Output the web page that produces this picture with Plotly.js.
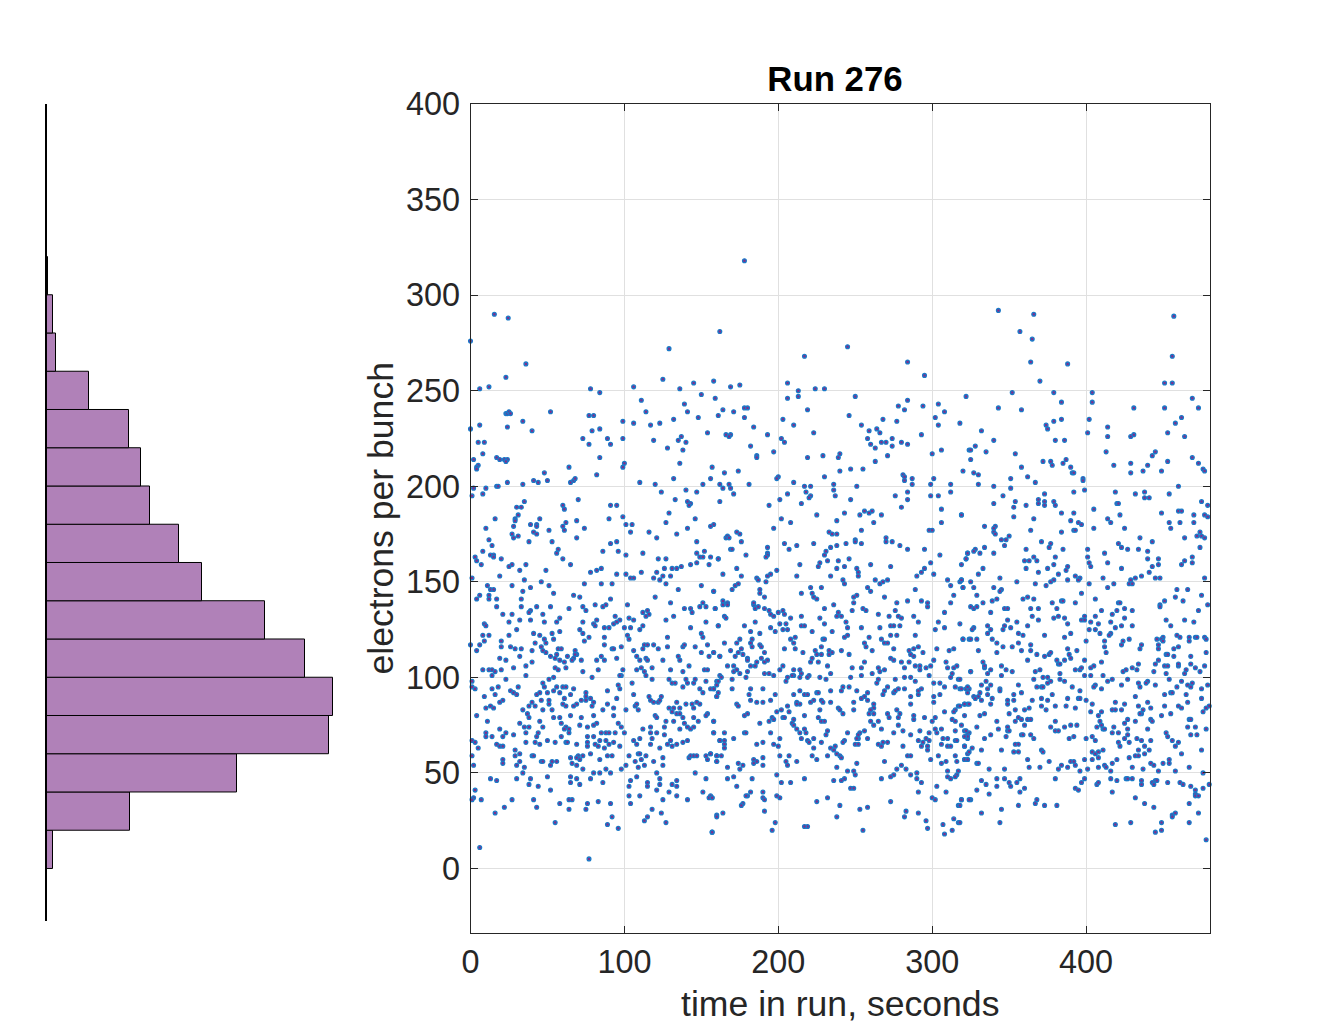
<!DOCTYPE html>
<html><head><meta charset="utf-8">
<script src="https://cdn.plot.ly/plotly-3.0.1.min.js"></script>
<style>html,body{margin:0;padding:0;background:#fff}#c{width:1344px;height:1030px}</style>
</head><body><div id="c"></div>
<script>
var histBinCenters=[10,30,50,70,90,110,130,150,170,190,210,230,250,270,290,310];
var histCounts=[6,83,190,282,286,258,218,155,132,103,94,82,42,9,6,1];
var xTicks=[0,100,200,300,400];
var yTicks=[0,50,100,150,200,250,300,350,400];
// [seconds, electrons], grouped by time span
var pointsEarly=[0,276,129,272,36,264,23,257,125,256,145,254,158,255,6,251,12,252,78,251,84,249,106,252,136,251,111,245,150,248,159,246,139,243,141,239,114,239,23,238,24,238,25,239,26,238,52,239,77,237,80,237,34,234,99,234,106,233,117,232,123,233,132,235,148,236,161,237,6,232,24,231,0,230,40,229,79,229,84,230,154,228,73,225,89,225,99,225,5,223,9,223,77,222,91,222,119,224,135,224,137,226,140,223,128,220,138,219,8,217,17,215,19,214,22,214,24,214,23,213,84,215,2,214,136,212,100,212,99,210,157,210,5,211,4,210,4,209,64,210,48,207,82,206,41,203,44,202,50,203,65,202,67,203,68,204,110,202,132,204,156,204,24,202,17,200,18,200,34,201,120,201,151,201,162,201,2,199,10,199,124,197,140,198,147,197,8,196,1,195,70,193,35,192,133,193,141,192,143,191,142,190,162,192,30,189,33,189,60,190,61,188,91,190,95,190,31,185,129,186,99,184,16,183,29,183,29,182,45,183,90,183,146,183,69,182,127,181,62,181,39,180,43,180,43,179,28,179,101,180,105,180,158,180,156,179,60,179,10,178,74,178,141,178,51,177,61,177,104,176,116,176,41,176,43,175,27,175,28,173,31,174,134,175,69,173,121,173,12,172,38,171,53,171,91,170,95,171,147,171,14,169,8,166,86,166,96,166,112,165,57,167,56,165,147,165,152,166,13,164,15,164,15,163,101,164,3,163,4,161,20,162,60,162,122,162,127,162,149,163,151,163,156,163,161,162,147,160,143,159,155,159,7,159,25,158,27,159,36,159,65,159,131,157,134,157,137,158,32,156,49,156,78,155,82,156,85,157,111,155,121,155,126,157,95,154,101,154,104,152,106,152,119,152,125,153,123,151,130,153,1,152,19,153,35,151,46,150,74,149,85,149,92,149,127,149,27,148,51,148,39,147,11,148,13,146,15,146,150,148,135,146,158,145,34,145,54,144,6,143,12,143,67,143,71,142,12,141,17,141,33,141,91,141,120,142,4,141,15.5,290,24.5,288,
17,137,33,137,43,137,52,137,64,136,73,137,75,135,81,138,86,137,88,138,102,138,130,139,139,136,143,136,144,134,151,139,153,137,149,137,159,136,39,135,38,134,21,133,27,133,47,133,112,134,115,135,116,133,114,132,132,132,58,131,56,129,39,130,25,129,32,130,48,129,73,129,82,130,80,128,81,127,94,132,97,130,93,128,95,129,103,131,106,130,100,126,104,126,127,130,153,129,9,128,10,127,30,125,87,126,90,126,112,127,143,126,161,127,58,124,71,125,41,123,53,123,45,122,73,123,8,122,12,122,25,122,102,122,103,120,110,125,128,121,150,123,151,121,77,121,87,121,54,120,48,120,49,118,42,118,20,119,20,116,9,119,6,117,0,117,74,119,87,117,98,116,154,117,113,117,115,117,119,117,138,116,139,117,128,116,146,116,26,116,29,115,33,115,46,116,47,114,57,115,59,115,92,115,93,115,112,115,122,115,40,114,68,114,69,112,68,112,4,114,106,114,49,113,56,112,52,111,55,110,63,111,150,113,158,113,155,111,162,111,19,110,23,109,32,111,67,110,66,109,72,109,85,111,82,109,87,109,95,110,108,111,110,109,114,110,115,109,125,109,135,111,136,109,58,109,61,108,40,108,36,106,142,106,118,105,28,105,55,105,57,104,62,105,111,105,113,103,108,104,114,101,83,104,73,103,8,104,12,104,14,104,16,103,20,104,14,101,130,104,138,103,152,104,154,104,162,101,99,104,98,101,97,101,79,100,36,101,54,100,51,99,23,99,118,99,129,99,140,99,146,99,153,98,160,98,1,98,105,97,47,97,131,97,133,97,141,97,145,97,48,95,96,96,97,94,1,95,3,94,14,94,18,95,31,95,56,95,60,95,62,95,67,94,138,95,149,94,156,94,158,94,161,92,26,93,28,92,30,91,54,93,50,92,45,92,43,91,75,92,89,93,58,92,65,91,106,91,151,92,16,91,9,90,116,90,124,90,160,90,75,90,72,88,75,88,78,89,61,89,95,89,46,88,21,88,19,87,117,88,119,87,122,87,123,88,134,87,40,87,51,88,51,86,80,87,89,86,60,86,69,86,140,86,144,86,147,87,149,86,107,85,108,86,109,83,38,85,42,85,62,85,67,85,79,85,129,84,132,84,136,84,145,84,10,84,13,85,15,84,34,83,47,83,53,83,86,83,93,84,101,83,131,82,134,81,136,81,154,81,153,80,4,80,37,81,38,79,65,80,80,80,93,80,54,79,58,79,59,76,72,79,120,80,121,79,138,79,145,79,11,77,45,77,127,77,132,77,148,77,158,77,32,76,82,76,80,75,96,76,139,76,71,75,117,74,126,74,35,74,38,74,47,74,62,74,76,74,19,73,98,74,112,73,136,73,141,74,143,73,145,74,64,73,61,73,10,71,85,71,88,71,90,71,94,71,23,71,36,71,44,71,64,71,100,71,117,71,121,71,126,70,158,71,10,69,14,69,21,69,28,70,43,69,59,69,76,69,80,69,1,67,3,66,50,67,55,66,62,66,63,66,36,66,42,66,45,65,84,67,88,67,93,66,76,66,76,64,106,67,110,68,118,68,130,67,138,66,141,67,162,67,17,65,19,64,21,64,69,65,81,65,83,64,87,63,90,65,97,64,108,65,117,65,128,65,131,64,134,65,5,63,123,63,29,62,32,60,29,59,78,60,40,59,41,59,1,59,92,59,89,59,73,59,70,59,69,58,109,60,110,60,114,59,103,59,125,58,142,58,143,59,145,59,147,59,153,59,156,60,160,59,65,58,71,57,84,57,21,57,21,55,32,56,46,56,47,56,53,56,56,56,52,54,66,55,69,54,107,56,111,57,119,56,154,57,160,56,2,54,30,54,35,53,101,54,109,53,113,54,125,54,98,52,88,52,73,52,34,50,80,50,84,50,91,50,121,50,146,50,50,48,65,48,108,48,13,47,17,46,30,47,39,47,69,47,78,47,123,47,134,46,153,47,104,46,38,44,65,45,71,44,86,45,115,45,123,44,131,44,134,43,115,43,103,43,44,43,52,41,3,41,121,41,129,40,134,38,103,38,110,38,151,40,156,38,155,37,157,37,2,37,1,36,7,36,27,36,41,36,64,36,66,36,125,36,141,36,58,34,76,34,83,35,91,34,104,34,22,32,43,32,64,31,75,31,118,31,16,29,124,29,92,27,115,27,113,25,160,28,55,24,127,24,89,23,96,21,157,19,6,11,77,5];
var pointsMiddle=[178,318,162,281,245,273,217,268,284,265,295,258,169,252,175,253,206,254,213,250,213,247,206,246,224,251,230,251,250,247,322,247,219,240,164,240,171,239,178,241,180,241,178,236,203,235,210,232,184,231,246,237,254,232,278,242,282,240,284,245,294,242,304,243,308,239,302,236,304,232,318,233,268,235,277,234,259,229,264,230,266,228,258,225,260,222,263,220,267,223,270,223,274,225,274,221,280,223,284,222,166,227,169,227,168,226,193,227,223,228,293,227,202,225,204,223,182,221,186,216,186,215,197,218,219,215,229,216,240,217,239,215,271,216,300,217,306,219,324,219,263,213,247,209,255,209,240,208,165,207,174,208,200,205,199,204,230,205,210,202,281,206,282,205,282,203,287,204,287,201,301,204,320,208,312,201,299,201,168,201,164,199,169,199,181,201,217,200,221,200,236,201,251,200,236,198,218,197,206,196,171,196,221,195,220,194,237,195,276,195,284,197,284,193,299,195,304,195,312,197,201,193,215,191,247,193,194,190,306,188,280,189,225,185,243,186,253,185,256,187,259,186,261,187,267,185,319,185,202,183,208,181,238,182,262,181,306,181,197,178,254,177,233,176,235,175,238,175,298,177,300,177,173,176,175,175,166,173,167,174,168,173,270,173,250,172,
176,171,193,168,204,170,212,169,223,170,207,167,169,167,170,167,161,162,179,164,193,165,193,164,192,163,234,168,238,169,244,170,250,171,254,170,231,166,230,164,270,171,274,171,279,169,284,167,295,167,305,164,323,165,322,162,214,159,199,156,195,154,193,153,186,152,187,151,192,150,176,153,173,157,164,154,227,160,226,158,232,161,239,161,238,157,243,158,246,162,260,159,273,158,251,157,252,155,252,153,212,153,234,153,242,151,243,149,299,160,295,157,293,155,290,153,301,154,319,159,310,151,312,148,318,150,319,151,263,151,266,149,268,150,271,151,258,147,260,145,289,146,320,147,172,148,174,149,170,146,188,146,188,144,191,142,158,145,221,147,228,147,215,144,222,144,223,142,225,141,251,143,249,142,249,139,269,142,284,140,293,140,297,139,297,137,277,139,314,143,312,139,164,140,164,138,167,139,167,138,159,136,184,138,184,139,185,136,187,137,191,136,194,135,195,133,197,132,200,134,203,135,204,133,208,131,201,128,205,128,230,136,236,138,239,134,238,132,241,132,244,129,227,131,230,128,248,135,255,136,257,135,265,133,276,135,272,132,278,132,280,131,288,132,291,129,308,134,304,129,165,132,166,131,185,129,161,127,178,127,215,132,215,127,217,127,195,126,203,125,206,125,198,124,182,124,188,123,222,124,235,124,245,126,254,126,266,126,273,127,275,127,279,127,302,125,308,126,245,122,243,121,175,120,173,118,183,120,182,118,188,117,189,116,165,118,183,116,208,120,211,121,210,118,229,120,230,120,259,121,256,118,257,116,267,120,269,118,271,118,273,122,277,122,289,122,320,120,324,120,261,114,228,116,204,115,211,115,224,114,216,113,225,112,228,112,233,114,235,113,233,112,241,114,246,112,275,115,291,116,288,115,285,114,286,112,288,111,294,113,303,115,311,114,314,115,176,115,177,112,169,114,174,113,191,113,158,113,162,111,172,111,180,110,180,109,189,110,193,109,191,108,222,110,221,108,226,108,232,106,256,108,254,105,248,105,273,110,275,109,280,108,282,105,285,108,289,106,292,106,292,104,296,105,299,106,301,109,298,101,309,108,310,105,316,106,314,105,313,102,312,100,167,106,171,106,185,106,186,108,182,106,171,103,173,104,175,102,180,103,179,100,203,106,201,104,210,104,214,104,215,102,214,100,210,101,234,102,220,101,219,100,227,100,231,99,247,100,254,101,261,102,265,105,266,103,269,104,265,99,264,97,276,99,282,100,286,100,289,98,325,103,317,99,191,102,194,102,197,101,163,100,161,98,160,96,170,99,170,94,158,94,182,94,190,94,205,98,206,100,209,101,301,97,305,97,308,95,315,95,318,94,322,94,324,94,282,94,293,94,271,95,251,93,246,95,242,95,241,93,234,93,275,92,276,93,278,94,214,93,217,91,219,91,225,92,226,92,210,91,160,90,181,91,198,91,258,92,256,90,254,89,269,93,268,91,286,90,291,91,291,93,301,90,301,87,305,91,182,88,186,87,190,87,195,88,173,86,174,85,212,87,214,86,212,86,206,85,202,83,207,82,199,82,221,87,223,88,228,88,229,87,234,87,227,83,239,84,240,83,242,81,249,87,249,83,258,88,262,86,262,84,259,81,260,83,262,81,286,86,277,83,279,81,271,81,272,79,278,79,308,82,317,85,315,83,314,82,321,86,323,86,180,81,178,80,158,77,188,76,196,79,194,77,197,78,203,79,204,79,210,78,209,76,217,80,226,79,228,77,230,77,260,77,265,77,262,75,267,73,275,71,281,72,278,75,288,80,288,78,295,79,302,79,300,77,302,73,306,73,303,71,313,78,315,77,315,72,321,72,324,71,323,70,210,75,212,73,214,71,217,73,218,71,232,72,231,70,245,71,256,72,253,71,252,70,258,68,252,68,251,68,286,70,292,72,298,71,158,71,165,71,178,71,179,71,195,71,171,68,162,67,165,67,165,65,165,63,201,68,215,68,219,67,220,66,223,68,228,66,243,67,242,66,186,65,190,66,197,65,200,64,223,63,250,65,252,65,265,65,267,64,268,66,271,66,281,64,291,67,294,66,296,68,298,67,293,64,297,64,297,62,306,65,307,68,310,68,310,64,312,64,315,67,316,67,321,64,323,68,323,60,234,63,236,62,237,64,238,60,240,59,241,58,232,59,222,59,225,57,156,60,160,59,163,59,160,56,174,55,177,54,175,52,184,57,186,56,184,55,190,58,190,54,201,59,207,59,205,56,206,54,212,56,284,59,286,59,269,56,251,55,299,57,304,59,306,55,309,56,315,59,316,56,321,57,323,57,280,54,283,52,277,52,238,53,245,51,249,51,250,49,167,53,310,51,317,51,316,49,310,48,312,47,315,48,286,49,290,50,275,49,273,48,267,47,290,47,293,45,167,47,171,48,183,47,199,49,217,47,202,45,208,45,236,46,243,47,241,46,247,42,249,42,173,43,303,43,291,40,309,40,300,37,302,36,182,40,180,38,179,38,157,37,190,40,190,37,191,36,199,38,201,37,232,37,225,35,273,35,319,36,317,33,325,36,177,34,176,33,240,33,253,31,258,32,191,30,283,30,282,27,291,29,164,29,160,27,238,27,296,25,314,26,317,24,198,24,307,23,219,22,217,22,297,21,255,20,196,20,313,20,308,18,157,19];
var pointsLate=[343,292,366,290,457,289,357,281,365,277,364,265,388,264,456,268,370,255,451,254,456,254,352,249,379,249,404,249,469,246,343,241,358,240,384,244,404,244,431,241,451,241,473,241,379,234,384,235,402,235,462,236,458,233,374,232,375,230,414,231,414,226,332,229,401,228,453,228,429,226,431,227,464,226,340,224,380,224,386,224,328,221,325,219,335,218,354,217,413,218,445,218,443,216,325,214,372,213,377,213,378,211,385,212,387,214,418,211,429,212,440,211,453,213,469,215,473,212,327,207,330,206,358,210,362,205,390,210,391,207,392,207,429,207,437,208,449,208,476,209,477,208,351,204,398,204,398,203,367,202,330,201,340,200,351,199,460,200,399,198,419,197,392,197,373,196,432,196,438,197,438,194,441,194,454,196,346,195,340,191,354,192,369,193,369,191,373,192,373,190,379,192,380,190,361,190,353,189,319,185,384,186,392,186,405,188,420,191,421,191,449,186,460,187,462,187,475,192,479,190,353,184,366,183,390,182,414,183,416,181,422,185,470,185,477,185,479,184,395,181,397,180,454,181,461,181,470,181,334,179,341,179,340,178,340,176,341,175,364,177,384,176,392,177,393,177,405,178,425,178,455,178,474,176,350,174,345,172,348,172,435,173,443,171,464,173,472,174,475,174,477,173,371,171,377,170,376,168,347,169,334,168,328,167,327,166,331,165,323,165,322,162,340,165,361,167,385,167,401,167,401,163,421,170,423,168,427,167,434,167,440,166,412,165,474,168,440,162,447,162,469,163,464,161,360,161,363,161,366,163,368,161,380,163,379,159,402,160,403,158,414,160,443,158,447,159,462,159,469,160,333,157,361,157,375,157,388,158,423,157,
330,154,344,152,369,155,382,154,387,156,393,153,396,152,395,151,411,152,432,152,436,153,441,155,445,152,448,152,477,152,319,151,325,150,355,150,367,149,374,148,377,150,379,151,388,151,402,149,418,149,414,147,429,151,428,149,430,149,320,147,327,147,340,147,345,146,344,145,329,143,333,139,339,140,342,141,359,141,362,142,366,141,397,144,406,141,459,146,466,146,458,142,463,140,475,143,378,139,384,140,385,140,393,139,421,139,422,139,448,138,448,137,451,140,479,138,325,137,327,136,329,137,347,136,349,136,364,136,369,136,381,136,410,135,420,135,425,136,430,135,473,135,338,134,417,133,365,132,382,132,379,131,386,131,399,132,406,132,349,130,355,129,369,130,388,128,397,130,399,130,403,129,408,128,416,129,425,131,452,130,464,130,470,129,318,128,336,127,347,127,362,127,423,127,430,127,455,127,351,126,338,125,327,126,326,125,346,125,419,126,402,125,406,125,336,123,356,123,359,122,390,123,409,123,416,123,415,122,320,120,325,120,329,120,339,120,342,118,356,118,386,121,373,122,400,119,412,119,424,119,423,117,428,120,436,117,435,115,446,120,450,121,449,120,450,119,447,117,447,115,459,122,461,121,467,121,467,119,471,121,472,121,477,121,478,120,346,116,352,116,358,114,364,117,364,114,412,116,413,113,388,115,394,114,330,114,342,113,368,112,373,111,376,112,377,113,389,112,390,110,386,109,381,109,382,107,383,107,457,115,460,116,478,113,452,112,453,112,457,111,468,111,362,109,399,109,410,108,333,108,334,105,334,106,447,109,348,104,345,106,445,107,451,106,453,106,460,106,460,107,468,107,471,105,477,106,370,104,367,103,352,103,338,104,336,102,325,103,345,101,393,104,396,104,397,105,403,105,405,106,383,102,399,101,403,101,411,101,424,103,426,104,430,105,433,104,434,107,444,103,452,102,464,102,465,104,474,103,366,99,372,100,375,100,377,98,375,97,383,99,386,98,318,99,335,98,332,96,338,96,336,94,323,95,319,94,344,94,344,93,356,96,417,99,414,98,427,99,423,96,410,94,406,96,405,95,434,97,435,95,440,98,439,97,445,96,454,99,462,98,469,97,466,96,468,95,391,95,396,93,368,95,371,95,372,95,479,96,475,94,323,92,331,92,330,90,336,91,327,90,328,89,332,88,339,89,358,92,353,91,378,91,371,89,375,88,388,89,395,89,396,89,400,88,365,88,353,88,349,88,451,91,455,92,456,92,459,95,465,91,432,90,475,89,466,87,321,86,324,86,318,85,338,86,349,86,371,85,380,85,387,85,404,86,419,87,425,86,440,87,434,85,442,84,451,85,460,85,462,84,480,85,478,84,476,82,354,83,360,83,363,84,374,83,393,84,417,83,419,83,423,83,410,82,403,82,334,81,331,80,321,80,350,81,437,83,436,81,435,81,455,81,449,80,356,79,358,78,362,78,364,78,354,77,342,77,380,77,408,80,409,77,425,76,427,78,432,77,442,78,443,77,467,78,468,78,319,75,329,74,349,74,360,75,343,73,377,74,386,74,390,75,394,75,407,74,410,75,411,73,412,73,418,74,427,73,440,73,466,74,471,74,478,73,322,72,323,69,321,69,348,69,349,72,350,72,358,70,359,70,364,70,338,70,380,72,382,72,417,71,421,71,427,70,425,68,452,71,453,69,468,70,472,70,334,68,366,68,389,68,392,69,400,68,404,69,406,67,433,68,436,67,442,67,456,67,460,66,354,65,356,65,421,66,422,64,428,66,438,64,458,64,326,63,321,64,345,62,324,61,332,62,353,61,356,61,371,62,372,61,411,62,404,61,406,60,408,61,434,62,441,62,432,59,434,59,438,60,462,60,475,62,321,57,323,57,362,57,376,56,399,57,404,57,408,58,420,57,428,58,329,55,330,55,390,56,392,56,393,54,384,54,388,53,370,53,363,53,412,54,413,53,417,55,442,55,444,54,450,55,454,55,454,57,430,53,437,52,467,53,337,52,347,52,382,52,396,51,401,52,408,53,416,51,447,51,458,51,476,50,332,46,335,44,342,47,347,47,350,45,351,43,355,45,357,47,342,43,360,42,380,47,399,47,397,45,393,42,395,41,407,44,408,45,416,47,420,46,426,47,427,47,430,47,436,46,436,44,443,45,444,44,445,46,446,46,453,45,461,45,463,44,468,43,471,41,471,39,471,38,473,38,476,42,480,44,329,41,337,39,319,36,324,36,417,40,432,37,357,40,367,34,368,36,356,33,373,33,381,33,438,34,444,32,467,34,345,31,332,29,456,28,456,27,458,29,473,29,318,33,318,24,344,24,419,23,429,24,449,24,467,24,445,19,449,20,478,15];

var pairs=pointsEarly.concat(pointsMiddle,pointsLate);
var timeInRun=[],electrons=[];
for(var i=0;i<pairs.length;i+=2){timeInRun.push(pairs[i]);electrons.push(pairs[i+1]);}

var W=1344,H=1030;
var fy=function(p){return 1-p/H;};
var txt='#262626',font='"Liberation Sans", Arial, sans-serif';
var data=[
 {type:'bar',orientation:'h',y:histBinCenters,x:histCounts,width:20,xaxis:'x2',yaxis:'y2',
  marker:{color:'#B081B8',line:{color:'#000',width:1}},hoverinfo:'skip'},
 {type:'scatter',mode:'markers',x:timeInRun,y:electrons,cliponaxis:false,
  marker:{size:3.8,color:'#7E2F8E',line:{color:'#1A7AC8',width:1.3}},hoverinfo:'skip'}
];
var layout={
 width:W,height:H,margin:{l:0,r:0,t:0,b:0},paper_bgcolor:'#fff',plot_bgcolor:'#fff',showlegend:false,
 font:{family:font,color:txt},
 title:{text:'<b>Run 276</b>',x:835/W,xanchor:'center',y:1-79/H,yanchor:'middle',font:{size:34.8,color:'#000',family:font}},
 xaxis:{domain:[470.5/W,1210/W],range:[0,480.5],tickvals:xTicks,ticktext:xTicks.map(String),ticks:'inside',ticklen:7,tickwidth:1,tickcolor:txt,
  showline:true,linecolor:txt,linewidth:1,mirror:'ticks',showgrid:true,gridcolor:'#e0e0e0',gridwidth:1,zeroline:false,ticklabelstandoff:1,
  tickfont:{size:32.4,color:txt},title:{text:'time in run, seconds',font:{size:35.6,color:txt},standoff:11},automargin:false,anchor:'y'},
 yaxis:{domain:[fy(932.5),fy(104)],range:[-33.5,400],tickvals:yTicks,ticktext:yTicks.map(String),ticks:'inside',ticklen:7,tickwidth:1,tickcolor:txt,
  showline:true,linecolor:txt,linewidth:1,mirror:'ticks',showgrid:true,gridcolor:'#e0e0e0',gridwidth:1,zeroline:false,ticklabelstandoff:3,
  tickfont:{size:32.4,color:txt},title:{text:'electrons per bunch',font:{size:35.6,color:txt},standoff:1},automargin:false,anchor:'x'},
 xaxis2:{domain:[46.5/W,333/W],range:[0,286.5],visible:false,anchor:'y2',fixedrange:true},
 yaxis2:{domain:[fy(920.5),fy(103.5)],range:[-27.2,400],showline:true,linecolor:'#000',linewidth:1.5,showgrid:false,zeroline:false,ticks:'',showticklabels:false,anchor:'x2'}
};
Plotly.newPlot('c',data,layout,{displayModeBar:false,staticPlot:true});
</script></body></html>
